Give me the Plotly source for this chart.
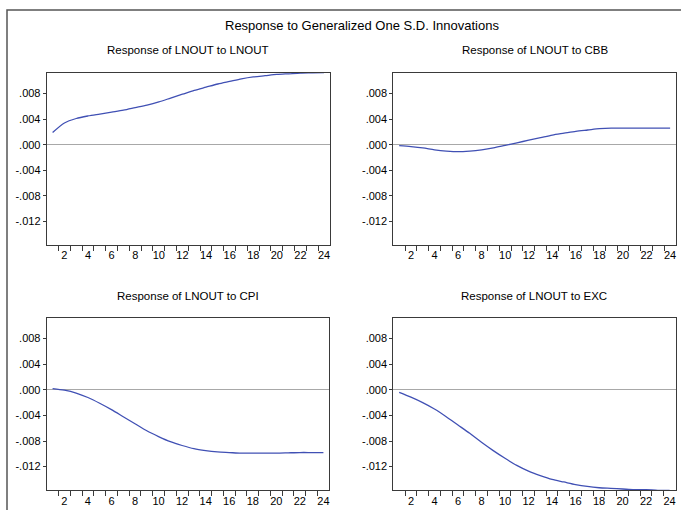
import plotly.graph_objects as go

periods = list(range(1, 25))

resp_lnout = [0.0019, 0.0034, 0.0041, 0.0045, 0.0048, 0.0051, 0.0054, 0.0058,
              0.0062, 0.0067, 0.0073, 0.0079, 0.0085, 0.0090, 0.0095, 0.0099,
              0.0103, 0.0106, 0.0108, 0.0110, 0.0111, 0.0112, 0.01125, 0.0113]
resp_cbb = [-0.00016, -0.0003, -0.0005, -0.0008, -0.0010, -0.0011, -0.0010, -0.0008,
            -0.0005, -0.0001, 0.0003, 0.0007, 0.0011, 0.0015, 0.0018, 0.0021,
            0.0023, 0.0025, 0.0026, 0.0026, 0.0026, 0.0026, 0.0026, 0.0026]
resp_cpi = [0.0002, -0.00005, -0.0005, -0.0012, -0.0021, -0.0031, -0.0042, -0.0053,
            -0.0064, -0.0073, -0.0081, -0.0087, -0.0092, -0.0095, -0.0097, -0.0098,
            -0.0099, -0.0099, -0.0099, -0.0099, -0.00985, -0.0098, -0.0098, -0.0098]
resp_exc = [-0.0004, -0.00115, -0.0020, -0.0030, -0.0042, -0.0055, -0.0068, -0.0082,
            -0.0095, -0.0107, -0.0118, -0.0127, -0.0134, -0.0140, -0.0144, -0.0148,
            -0.0151, -0.0153, -0.0154, -0.0155, -0.0156, -0.0156, -0.0157, -0.0157]

panel_titles = ["Response of LNOUT to LNOUT", "Response of LNOUT to CBB",
                "Response of LNOUT to CPI", "Response of LNOUT to EXC"]
series = [resp_lnout, resp_cbb, resp_cpi, resp_exc]

ytick_vals = [-0.012, -0.008, -0.004, 0.0, 0.004, 0.008]
ytick_text = ["-.012", "-.008", "-.004", ".000", ".004", ".008"]
xtick_vals = list(range(2, 25, 2))
xtick_text = [str(v) for v in xtick_vals]
xminor_vals = [v + 0.5 for v in range(1, 24)]

main_title = "Response to Generalized One S.D. Innovations"

W, H = 681, 510
# pixel boxes: (left, right, top, bottom)
boxes = [(46.7, 330.0, 72.5, 245.0), (393.3, 676.0, 72.5, 245.0),
         (46.7, 329.3, 317.5, 490.3), (393.3, 675.5, 317.5, 490.3)]

FONT = "Arial, Liberation Sans, sans-serif"
fig = go.Figure()
layout = dict(width=W, height=H, margin=dict(l=0, r=0, t=0, b=0),
              paper_bgcolor="white", plot_bgcolor="white", showlegend=False,
              font=dict(family=FONT, color="black"))

annotations = [dict(text=main_title, x=361.5 / W, y=1 - 25 / H, xref="paper", yref="paper",
                    showarrow=False, xanchor="center", yanchor="middle",
                    font=dict(size=13, family=FONT, color="black"))]

for i, (vals, ttl, (l, r, t, b)) in enumerate(zip(series, panel_titles, boxes)):
    n = "" if i == 0 else str(i + 1)
    fig.add_trace(go.Scatter(x=periods, y=vals, mode="lines",
                             line=dict(color="#4050B4", width=1.3, shape="spline",
                                       smoothing=0.8),
                             xaxis="x" + n, yaxis="y" + n, hoverinfo="skip"))
    layout["xaxis" + n] = dict(
        domain=[l / W, r / W], anchor="y" + n, range=[0.5, 24.5],
        tickmode="array", tickvals=xtick_vals, ticktext=xtick_text,
        ticks="", ticklen=0, showgrid=False, zeroline=False,
        showline=True, linecolor="#3a3a3a", linewidth=1, mirror=True,
        tickfont=dict(size=11, family=FONT, color="black"),
        minor=dict(tickmode="array", tickvals=xminor_vals, ticks="outside",
                   ticklen=5, tickcolor="#3a3a3a", tickwidth=1, showgrid=False),
        fixedrange=True)
    layout["yaxis" + n] = dict(
        domain=[1 - b / H, 1 - t / H], anchor="x" + n, range=[-0.0157, 0.0113],
        tickmode="array", tickvals=ytick_vals, ticktext=ytick_text,
        ticks="outside", ticklen=3, tickcolor="#3a3a3a", showgrid=False,
        zeroline=True, zerolinecolor="#a8a8a8", zerolinewidth=1,
        showline=True, linecolor="#3a3a3a", linewidth=1, mirror=True,
        tickfont=dict(size=11, family=FONT, color="black"),
        fixedrange=True)
    annotations.append(dict(text=ttl, x=(l + r) / 2 / W, y=1 - (t - 22) / H,
                            xref="paper", yref="paper", showarrow=False,
                            xanchor="center", yanchor="middle",
                            font=dict(size=11.5, family=FONT, color="black")))

layout["annotations"] = annotations
layout["shapes"] = [dict(type="rect", xref="paper", yref="paper",
                         x0=7 / W, x1=1.01, y0=-0.01, y1=1 - 10 / H,
                         line=dict(color="#555555", width=1.5), layer="below")]
fig.update_layout(**layout)
fig.write_html("out.html", config={"displayModeBar": False},
               post_script="document.body.style.margin='0';document.body.style.overflow='hidden';")
